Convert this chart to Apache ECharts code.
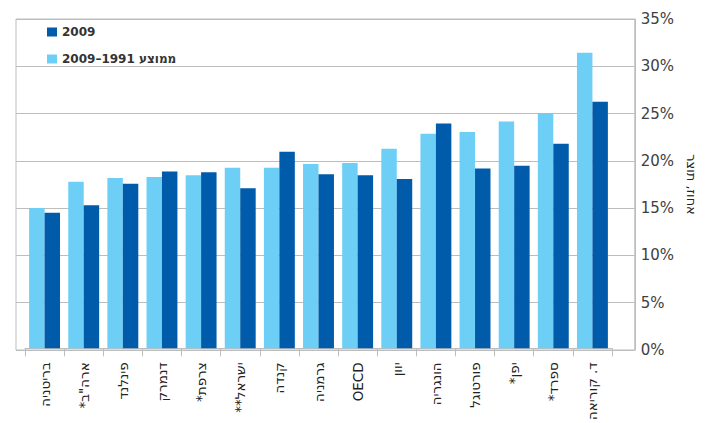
<!DOCTYPE html>
<html>
<head>
<meta charset="utf-8">
<script src="https://cdn.jsdelivr.net/npm/echarts@6/dist/echarts.min.js"></script>
<style>
html,body{margin:0;padding:0;background:#fff;}
#chart{width:706px;height:423px;}
</style>
</head>
<body>
<div id="chart"></div>
<script>
const categories = ['בריטניה','ארה"ב*','פינלנד','דנמרק','צרפת*','ישראל**','קנדה','גרמניה','OECD','יוון','הונגריה','פורטוגל','יפן*','ספרד*','ד. קוריאה'];
const avgName = 'ממוצע 1991–2009';
const avgValues = [14.9, 17.7, 18.1, 18.2, 18.4, 19.2, 19.2, 19.6, 19.7, 21.2, 22.8, 23.0, 24.1, 25.0, 31.4];
const y2009Name = '2009';
const y2009Values = [14.4, 15.2, 17.5, 18.8, 18.7, 17.0, 20.9, 18.5, 18.4, 18.0, 23.9, 19.1, 19.4, 21.75, 26.2];
const yTicks = [0, 5, 10, 15, 20, 25, 30, 35];
const yName = 'אחוז, תוצר';

const FONT = 'DejaVu Sans, sans-serif';
const RLM = '\u200F';
const chart = echarts.init(document.getElementById('chart'), null, { renderer: 'svg' });
chart.setOption({
  animation: false,
  textStyle: { fontFamily: FONT },
  legend: {
    orient: 'vertical',
    left: 42, top: 21,
    itemWidth: 10, itemHeight: 9, itemGap: 15,
    icon: 'rect',
    data: [y2009Name, avgName],
    textStyle: { fontFamily: FONT, fontSize: 12, fontWeight: 'bold', color: '#333' }
  },
  grid: [
    { left: 16, right: 70, top: 19, bottom: 73, show: true, borderColor: '#bdbdbd', borderWidth: 1 },
    { left: 25, right: 94, top: 19, bottom: 73 }
  ],
  xAxis: [
    { type: 'category', gridIndex: 0, data: categories, show: false },
    { type: 'category', gridIndex: 1, data: categories,
      axisLine: { show: true, lineStyle: { color: '#bdbdbd' } },
      axisTick: { show: true, length: 8, lineStyle: { color: '#bdbdbd' } },
      axisLabel: { rotate: 90, margin: 14, fontFamily: FONT, fontSize: 13.5, color: '#222',
        formatter: function (v) { return /[\u0590-\u05FF]/.test(v) ? v + RLM : v; } }
    }
  ],
  yAxis: [
    { type: 'value', gridIndex: 0, position: 'right', min: yTicks[0], max: yTicks[yTicks.length-1], interval: 5,
      axisLine: { show: true, lineStyle: { color: '#bdbdbd' } },
      axisTick: { show: false },
      splitLine: { show: true, lineStyle: { color: '#bdbdbd', width: 1 } },
      axisLabel: { formatter: '{value}%', margin: 6, fontFamily: FONT, fontSize: 15, color: '#404040' },
      name: yName, nameLocation: 'middle', nameRotate: -90, nameGap: 44,
      nameTextStyle: { fontFamily: FONT, fontSize: 13, color: '#222' }
    },
    { type: 'value', gridIndex: 1, min: 0, max: 35, show: false }
  ],
  series: [
    { name: avgName, type: 'bar', xAxisIndex: 1, yAxisIndex: 1, data: avgValues,
      itemStyle: { color: '#6dcff6' }, barGap: '0%', barCategoryGap: '21%' },
    { name: y2009Name, type: 'bar', xAxisIndex: 1, yAxisIndex: 1, data: y2009Values,
      itemStyle: { color: '#005baa' }, barGap: '0%', barCategoryGap: '21%' }
  ]
});
</script>
</body>
</html>
